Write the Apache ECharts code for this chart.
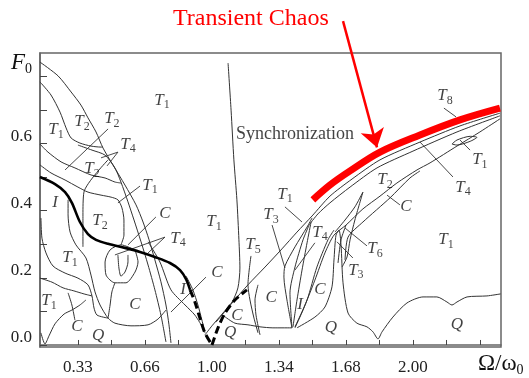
<!DOCTYPE html>
<html><head><meta charset="utf-8">
<script src="https://cdn.jsdelivr.net/npm/echarts@6/dist/echarts.min.js"></script>
<style>html,body{margin:0;padding:0;background:#fff}#c{width:529px;height:378px}</style>
</head><body><div id="c"></div>
<script>
// ---- axis ticks / labels ----
const xTickValues = [0.3333,0.5,0.6667,0.8333,1.0,1.1667,1.3333,1.5,1.6667,1.8333,2.0,2.1667,2.3333];
const xLabelValues = [0.3333,0.6667,1.0,1.3333,1.6667,2.0];
const xLabelTexts = ['0.33','0.66','1.00','1.34','1.68','2.00'];
const yTickValues = [0,0.1,0.2,0.3,0.4,0.5,0.6,0.7,0.8];
const yLabelValues = [0,0.2,0.4,0.6];

// ---- boundary curves (Omega/omega0, F0) ----
const curveOuter = [[0.144,0.842],[0.234,0.801],[0.299,0.753],[0.348,0.714],[0.383,0.676],[0.423,0.634],[0.458,0.586],[0.507,0.536],[0.567,0.476],[0.622,0.417],[0.657,0.366],[0.687,0.313],[0.716,0.253],[0.746,0.188],[0.771,0.119],[0.786,0.060],[0.796,0.006]];
const curveOuterInner = [[0.333,0.595],[0.403,0.580],[0.468,0.565],[0.517,0.527],[0.547,0.485],[0.582,0.426],[0.612,0.372],[0.647,0.307],[0.682,0.238],[0.716,0.164],[0.746,0.089],[0.771,0.009]];
const curveT2Top = [[0.144,0.783],[0.199,0.744],[0.244,0.693],[0.274,0.646],[0.299,0.616],[0.343,0.601],[0.398,0.592],[0.448,0.589],[0.456,0.589]];
const curveMid = [[0.144,0.598],[0.184,0.574],[0.249,0.545],[0.318,0.527],[0.398,0.506],[0.468,0.497],[0.517,0.485],[0.547,0.482]];
const curveLow = [[0.144,0.536],[0.199,0.512],[0.269,0.491],[0.333,0.470],[0.383,0.455],[0.448,0.446],[0.498,0.440],[0.532,0.432],[0.552,0.408],[0.562,0.372],[0.562,0.327],[0.547,0.298]];
const curveT1Left = [[0.284,0.432],[0.284,0.387],[0.294,0.336],[0.323,0.298],[0.373,0.259],[0.398,0.208],[0.418,0.158],[0.443,0.119],[0.483,0.080],[0.517,0.065],[0.597,0.057],[0.682,0.060],[0.731,0.077],[0.771,0.104]];
const curveVert = [[0.483,0.551],[0.363,0.455],[0.358,0.387],[0.358,0.292]];
const loopOuter = [[0.617,0.283],[0.547,0.298],[0.493,0.283],[0.468,0.247],[0.473,0.208],[0.517,0.185],[0.572,0.185],[0.617,0.217],[0.632,0.247],[0.617,0.283]];
const loopInner = [[0.532,0.268],[0.537,0.229],[0.547,0.205],[0.567,0.217],[0.582,0.247],[0.582,0.268]];
const curveCLeft = [[0.517,0.185],[0.502,0.158],[0.493,0.119],[0.483,0.080]];
const curveK1 = [[0.149,0.378],[0.154,0.318],[0.174,0.274],[0.209,0.235],[0.269,0.214],[0.333,0.199],[0.383,0.179],[0.403,0.146],[0.413,0.110],[0.428,0.089],[0.483,0.080]];
const curveK3 = [[0.144,0.199],[0.204,0.187],[0.259,0.170],[0.313,0.161],[0.363,0.152],[0.403,0.146]];
const curveK2 = [[0.149,0.036],[0.169,0.003],[0.189,0.027],[0.219,0.063],[0.264,0.092],[0.303,0.104],[0.343,0.119],[0.373,0.134]];
const curveShort = [[0.284,0.155],[0.303,0.119],[0.318,0.074]];
const curveIBound = [[0.682,0.307],[0.741,0.247],[0.796,0.164],[0.866,0.119],[0.915,0.089],[0.955,0.051]];
const curveIRight = [[0.871,0.205],[0.905,0.164],[0.930,0.119],[0.950,0.074],[0.965,0.036]];
const curveV1 = [[1.080,0.839],[1.095,0.699],[1.109,0.551],[1.124,0.432],[1.134,0.313],[1.139,0.229],[1.129,0.170],[1.100,0.128],[1.050,0.092],[1.000,0.057],[0.965,0.030]];
const curveBottom1 = [[1.060,0.086],[1.114,0.065],[1.179,0.060],[1.239,0.054],[1.303,0.051],[1.398,0.051]];
const curveT5a = [[1.194,0.265],[1.179,0.179],[1.189,0.134],[1.209,0.080],[1.229,0.036]];
const curveT5b = [[1.229,0.179],[1.214,0.134],[1.219,0.089],[1.239,0.030]];
const fanA = [[1.398,0.051],[1.373,0.134],[1.358,0.202],[1.363,0.235],[1.413,0.292],[1.473,0.351],[1.498,0.378]];
const fanB = [[1.398,0.051],[1.388,0.155],[1.413,0.232],[1.453,0.313],[1.483,0.357]];
const fanC = [[1.403,0.054],[1.423,0.134],[1.448,0.223],[1.473,0.304],[1.493,0.366]];
const fanD = [[1.413,0.054],[1.473,0.134],[1.522,0.232],[1.577,0.313],[1.607,0.342]];
const fanE = [[1.413,0.051],[1.453,0.104],[1.512,0.193],[1.562,0.274],[1.607,0.327],[1.667,0.357],[1.751,0.405],[1.836,0.443],[1.920,0.482],[2.020,0.521],[2.085,0.542],[2.219,0.592],[2.333,0.634],[2.433,0.673]];
const sync1 = [[1.020,0.068],[1.100,0.125],[1.179,0.179],[1.264,0.232],[1.348,0.286],[1.423,0.336],[1.498,0.384],[1.587,0.443],[1.697,0.494],[1.836,0.551],[2.035,0.604],[2.234,0.652],[2.433,0.690]];
const sync2 = [[1.483,0.357],[1.527,0.390],[1.587,0.423],[1.687,0.470],[1.821,0.527],[2.000,0.577],[2.219,0.634],[2.433,0.682]];
const sliverLow = [[1.662,0.253],[1.677,0.321],[1.751,0.366],[1.886,0.438],[1.985,0.497],[2.035,0.518]];
const sliverShort = [[1.627,0.244],[1.642,0.313],[1.667,0.357]];
const spikeT3 = [[1.612,0.336],[1.662,0.372],[1.711,0.411],[1.751,0.455],[1.711,0.372],[1.687,0.313],[1.672,0.262],[1.647,0.232]];
const curveBottomRight = [[1.423,0.051],[1.512,0.083],[1.562,0.113],[1.597,0.173],[1.607,0.253],[1.617,0.327],[1.632,0.342],[1.642,0.298],[1.652,0.185],[1.677,0.095],[1.721,0.065],[1.771,0.054],[1.801,0.039],[1.826,0.018],[1.846,0.039],[1.900,0.083],[1.970,0.125],[2.050,0.143],[2.119,0.143],[2.169,0.128],[2.194,0.119],[2.219,0.128],[2.269,0.143],[2.368,0.146],[2.436,0.152]];
const loopT1 = [[2.194,0.598],[2.219,0.610],[2.284,0.621],[2.318,0.618],[2.284,0.606],[2.219,0.595],[2.194,0.598]];

// thick boundary (solid part, then dashed parts)
const thickSolid = [[0.144,0.500],[0.219,0.479],[0.269,0.455],[0.303,0.423],[0.343,0.366],[0.383,0.330],[0.423,0.313],[0.483,0.301],[0.567,0.289],[0.642,0.277],[0.716,0.262],[0.791,0.244],[0.841,0.223],[0.871,0.196],[0.891,0.164]];
const thickDashLeft = [[0.891,0.164],[0.915,0.128],[0.940,0.080],[0.965,0.036],[1.000,0.0]];
const thickDashRight = [[1.000,0.0],[1.030,0.051],[1.065,0.095],[1.114,0.134],[1.174,0.164]];

// transient chaos band and arrow
const chaosBand = [[1.502,0.432],[1.587,0.476],[1.687,0.518],[1.836,0.574],[2.035,0.625],[2.234,0.670],[2.433,0.705]];
const chaosArrow = [[1.652,0.964],[1.821,0.588]];

// leader lines
const leaders = [
  [[2.154,0.705],[2.214,0.679]], [[2.234,0.610],[2.284,0.580]], [[2.035,0.604],[2.199,0.500]],
  [[1.871,0.446],[1.935,0.417]], [[1.363,0.411],[1.448,0.366]], [[1.299,0.357],[1.363,0.229]],
  [[1.512,0.304],[1.413,0.223]], [[1.662,0.348],[1.771,0.295]], [[1.622,0.307],[1.701,0.259]],
  [[0.483,0.643],[0.269,0.521]], [[0.448,0.557],[0.532,0.574],[0.478,0.533]],
  [[0.642,0.473],[0.532,0.423]], [[0.721,0.381],[0.582,0.298]],
  [[0.517,0.268],[0.766,0.321],[0.682,0.274]], [[0.970,0.202],[0.796,0.098]]
];

// region labels
const regionLabels = [
  [0.751,0.729,'T1'],[0.353,0.664,'T2'],[0.502,0.673,'T2'],[0.224,0.640,'T1'],[0.582,0.598,'T4'],
  [0.403,0.524,'T2'],[0.692,0.476,'T1'],[0.219,0.423,'I'],[0.443,0.369,'T2'],[0.766,0.390,'C'],
  [0.831,0.318,'T4'],[1.010,0.366,'T1'],[0.294,0.259,'T1'],[1.025,0.217,'C'],[0.856,0.164,'I'],
  [0.617,0.119,'C'],[0.189,0.131,'T1'],[0.328,0.054,'C'],[0.433,0.027,'Q'],[1.090,0.036,'Q'],
  [1.124,0.089,'C'],[1.204,0.298,'T5'],[1.363,0.449,'T1'],[1.294,0.387,'T3'],[1.537,0.336,'T4'],
  [1.294,0.140,'C'],[1.537,0.164,'C'],[1.438,0.119,'I'],[1.592,0.051,'Q'],[1.811,0.286,'T6'],
  [1.716,0.223,'T3'],[1.861,0.491,'T2'],[1.965,0.411,'C'],[2.159,0.741,'T8'],[2.333,0.551,'T1'],
  [2.249,0.470,'T4'],[2.164,0.313,'T1'],[2.219,0.060,'Q'],[1.413,0.628,'Synchronization']
];

const FONT = 'Liberation Serif';
const thinCurves = [curveOuter,curveOuterInner,curveT2Top,curveMid,curveLow,curveT1Left,curveVert,loopOuter,loopInner,curveCLeft,curveK1,curveK3,curveK2,curveShort,curveIBound,curveIRight,curveV1,curveBottom1,curveT5a,curveT5b,fanA,fanB,fanC,fanD,fanE,sync1,sync2,sliverLow,sliverShort,spikeT3,curveBottomRight,loopT1];

const series = [];
thinCurves.forEach(c => series.push({type:'line', data:c, symbol:'none', smooth:0.25, silent:true,
  lineStyle:{color:'#333', width:1}, z:2}));
leaders.forEach(c => series.push({type:'line', data:c, symbol:'none', silent:true,
  lineStyle:{color:'#333', width:0.9}, z:2}));
series.push({type:'line', data:thickSolid, symbol:'none', smooth:0.3, silent:true, lineStyle:{color:'#000', width:2.6}, z:3});
series.push({type:'line', data:thickDashLeft, symbol:'none', smooth:0.3, silent:true, lineStyle:{color:'#000', width:3, type:[8,4]}, z:3});
series.push({type:'line', data:thickDashRight, symbol:'none', smooth:0.3, silent:true, lineStyle:{color:'#000', width:3, type:[8,4]}, z:3});
series.push({type:'line', data:chaosBand, symbol:'none', smooth:0.35, silent:true, lineStyle:{color:'#ff0000', width:7, cap:'butt'}, z:5});
series.push({type:'lines', coordinateSystem:'cartesian2d', clip:false, silent:true, z:6,
  symbol:['none','arrow'], symbolSize:[12,18],
  lineStyle:{color:'#ff0000', width:2.5, opacity:1, curveness:0},
  data:[{coords:chaosArrow}]});

function fmt(t){
  if (t.length > 2) return '{n|' + t + '}';
  if (t.length === 2) return '{t|' + t[0] + '}{s|' + t[1] + '}';
  return '{t|' + t + '}';
}
series.push({type:'scatter', symbolSize:0, silent:true, z:10,
  data: regionLabels.map(d => ({value:[d[0], d[1]], name:d[2]})),
  label:{show:true, position:'inside', formatter:p => fmt(p.name),
    rich:{
      t:{fontFamily:FONT, fontStyle:'italic', fontSize:17, color:'#111', lineHeight:18},
      s:{fontFamily:FONT, fontSize:12, color:'#111', padding:[10,0,0,0]},
      n:{fontFamily:FONT, fontSize:18, color:'#111'}
    }}});

const chart = echarts.init(document.getElementById('c'), null, {renderer:'canvas'});
chart.setOption({
  animation:false,
  backgroundColor:'#fff',
  title:{text:'Transient Chaos', left:168, top:2,
    textStyle:{color:'#ff0000', fontFamily:FONT, fontSize:24, fontWeight:'normal', lineHeight:24}},
  grid:{left:40, right:28, top:53, bottom:31, show:true, borderColor:'#666', borderWidth:1.5, backgroundColor:'transparent'},
  xAxis:{type:'value', min:0.1443, max:2.438,
    name:'{w|Ω/ω}{s|0}', nameLocation:'end', nameGap:-23,
    nameTextStyle:{align:'left', verticalAlign:'top', padding:[6,0,0,0],
      rich:{w:{fontFamily:FONT, fontSize:23, color:'#111'}, s:{fontFamily:FONT, fontSize:14, color:'#111', padding:[12,0,0,0]}}},
    axisLine:{show:true, lineStyle:{color:'#666', width:1.5}},
    axisTick:{show:true, inside:true, length:5, customValues:xTickValues, lineStyle:{color:'#444', width:1}},
    axisLabel:{customValues:xLabelValues, margin:12, fontFamily:FONT, fontSize:17, color:'#222',
      formatter:v => { const i = xLabelValues.findIndex(u => Math.abs(u - v) < 1e-6); return i >= 0 ? xLabelTexts[i] : ''; }},
    splitLine:{show:false}},
  yAxis:{type:'value', min:-0.006, max:0.869,
    name:'{f|F}{s|0}', nameLocation:'end', nameGap:-10,
    nameTextStyle:{align:'right', verticalAlign:'middle', padding:[0,8,0,0],
      rich:{f:{fontFamily:FONT, fontStyle:'italic', fontSize:23, color:'#111', lineHeight:24}, s:{fontFamily:FONT, fontSize:14, color:'#111', padding:[12,0,0,0]}}},
    axisLine:{show:true, lineStyle:{color:'#666', width:1.5}},
    axisTick:{show:true, inside:true, length:7, customValues:yTickValues, lineStyle:{color:'#444', width:1}},
    axisLabel:{customValues:yLabelValues, margin:8, fontFamily:FONT, fontSize:17, color:'#222',
      verticalAlign:'bottom', lineHeight:14, formatter:v => v.toFixed(1)},
    splitLine:{show:false}},
  series:series
});
</script></body></html>
